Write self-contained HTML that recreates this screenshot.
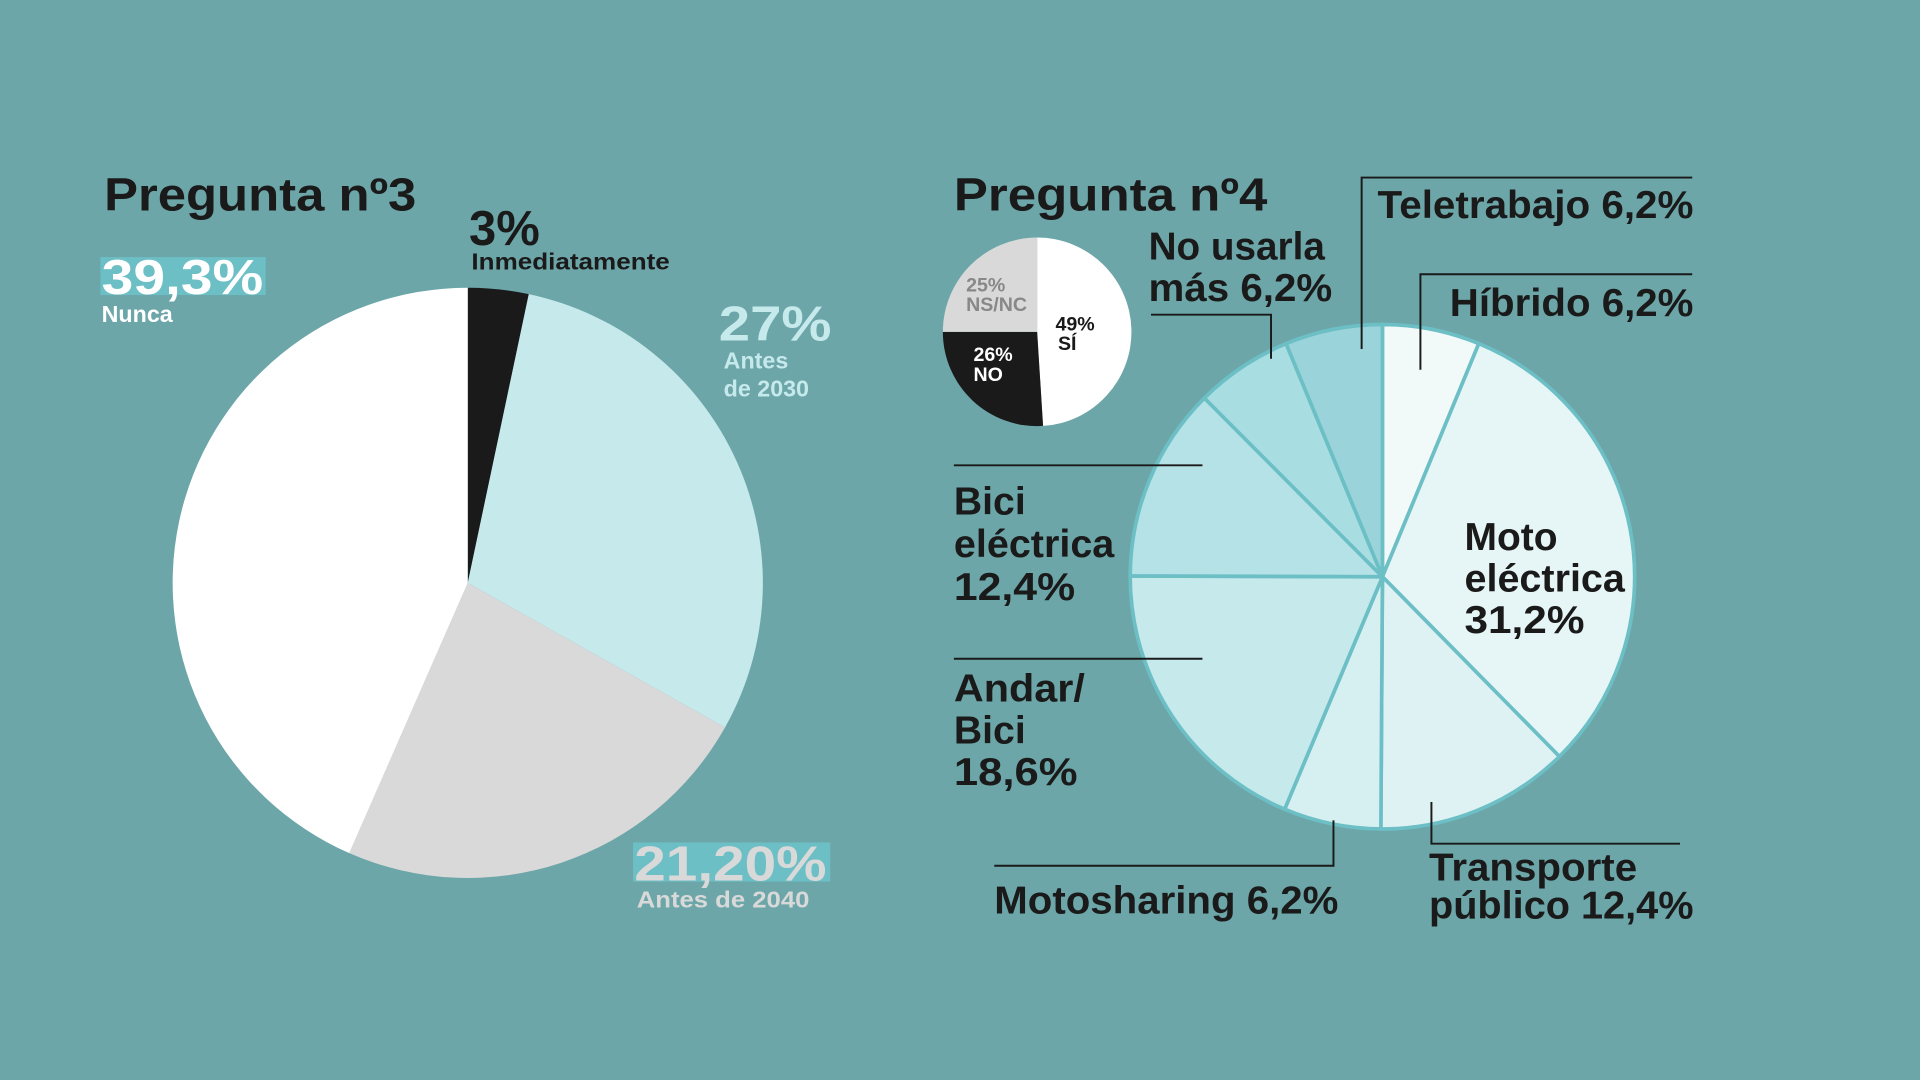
<!DOCTYPE html>
<html><head><meta charset="utf-8"><style>
html,body{margin:0;padding:0;background:#6ca6a8;}
svg{display:block;}
text{font-family:"Liberation Sans Narrow","Liberation Sans",sans-serif;font-weight:bold;}
</style></head><body>
<svg id="chart" width="1920" height="1080" viewBox="0 0 1568 882">
<rect x="0" y="0" width="1568" height="882" fill="#6ca6a8"/>
<g id="pie3"></g>
<g id="pie4"></g>
<g id="pieSmall"></g>

<text x="85" y="172" font-size="38" fill="#1a1a1a" textLength="255" lengthAdjust="spacingAndGlyphs">Pregunta nº3</text>
<text x="383" y="200" font-size="40" fill="#1a1a1a">3%</text>
<text x="385" y="220" font-size="19" fill="#1a1a1a" textLength="162" lengthAdjust="spacingAndGlyphs">Inmediatamente</text>
<rect x="82" y="210" width="135" height="31" fill="#6dbfc6"/>
<text x="83" y="240" font-size="40" fill="#ffffff" textLength="132" lengthAdjust="spacingAndGlyphs">39,3%</text>
<text x="83" y="263" font-size="19" fill="#ffffff">Nunca</text>
<text x="587" y="278" font-size="40" fill="#c6e9ec" textLength="92" lengthAdjust="spacingAndGlyphs">27%</text>
<text x="591" y="301" font-size="19" fill="#c6e9ec">Antes</text>
<text x="591" y="324" font-size="19" fill="#c6e9ec">de 2030</text>
<rect x="517" y="688" width="161" height="32" fill="#6dbfc6"/>
<text x="518" y="719" font-size="40" fill="#d9d9d9" textLength="157" lengthAdjust="spacingAndGlyphs">21,20%</text>
<text x="520" y="741" font-size="19" fill="#d9d9d9" textLength="141" lengthAdjust="spacingAndGlyphs">Antes de 2040</text>

<text x="779" y="172" font-size="38" fill="#1a1a1a" textLength="256" lengthAdjust="spacingAndGlyphs">Pregunta nº4</text>
<g font-size="16">
<text x="789" y="238" fill="#888888">25%</text>
<text x="789" y="254" fill="#888888">NS/NC</text>
<text x="795" y="295" fill="#ffffff">26%</text>
<text x="795" y="311" fill="#ffffff">NO</text>
<text x="862" y="270" fill="#1a1a1a">49%</text>
<text x="864" y="286" fill="#1a1a1a">SÍ</text>
</g>
<g font-size="32" fill="#1a1a1a">
<text x="938" y="212" textLength="144" lengthAdjust="spacingAndGlyphs">No usarla</text>
<text x="938" y="246" textLength="150" lengthAdjust="spacingAndGlyphs">más 6,2%</text>
<text x="1125" y="178" textLength="258" lengthAdjust="spacingAndGlyphs">Teletrabajo 6,2%</text>
<text x="1184" y="258" textLength="199" lengthAdjust="spacingAndGlyphs">Híbrido 6,2%</text>
<text x="779" y="420">Bici</text>
<text x="779" y="455" textLength="131" lengthAdjust="spacingAndGlyphs">eléctrica</text>
<text x="779" y="490" textLength="99" lengthAdjust="spacingAndGlyphs">12,4%</text>
<text x="779" y="573" textLength="107" lengthAdjust="spacingAndGlyphs">Andar/</text>
<text x="779" y="607">Bici</text>
<text x="779" y="641" textLength="101" lengthAdjust="spacingAndGlyphs">18,6%</text>
<text x="1196" y="449" textLength="76" lengthAdjust="spacingAndGlyphs">Moto</text>
<text x="1196" y="483" textLength="131" lengthAdjust="spacingAndGlyphs">eléctrica</text>
<text x="1196" y="517" textLength="98" lengthAdjust="spacingAndGlyphs">31,2%</text>
<text x="812" y="746" textLength="281" lengthAdjust="spacingAndGlyphs">Motosharing 6,2%</text>
<text x="1167" y="719" textLength="170" lengthAdjust="spacingAndGlyphs">Transporte</text>
<text x="1167" y="750" textLength="216" lengthAdjust="spacingAndGlyphs">público 12,4%</text>
</g>
<g stroke="#1a1a1a" stroke-width="1.6" fill="none">
<polyline points="940,257 1038,257 1038,293"/>
<polyline points="1382,145 1112,145 1112,285"/>
<polyline points="1382,224 1160,224 1160,302"/>
<line x1="779" y1="380" x2="982" y2="380"/>
<line x1="779" y1="538" x2="982" y2="538"/>
<polyline points="812,707 1089,707 1089,670"/>
<polyline points="1169,655 1169,689 1372,689"/>
</g>
</svg>
<script>
const q3Categories = ["Inmediatamente", "Antes de 2030", "Antes de 2040", "Nunca"];
const q3Values = [3, 27, 21.2, 39.3];
const q3Colors = ["#1a1a1a", "#c6e9ec", "#d9d9d9", "#ffffff"];
const q4Categories = ["Híbrido", "Moto eléctrica", "Transporte público", "Motosharing", "Andar/Bici", "Bici eléctrica", "No usarla más", "Teletrabajo"];
const q4Values = [6.2, 31.2, 12.4, 6.2, 18.6, 12.4, 6.2, 6.2];
const q4Colors = ["#f2f9f9", "#e6f5f5", "#dff2f3", "#d6eff1", "#c6e9ec", "#b5e2e6", "#a8dde1", "#9ad4da"];
const smallCategories = ["SÍ", "NO", "NS/NC"];
const smallValues = [49, 26, 25];
const smallColors = ["#ffffff", "#1a1a1a", "#d9d9d9"];

const NS = "http://www.w3.org/2000/svg";
function angleScale(values){
  const total = values.reduce((a,b)=>a+b,0);
  let cum = 0;
  return values.map(v=>{const a0=cum/total*2*Math.PI; cum+=v; return [a0, cum/total*2*Math.PI];});
}
function pt(cx,cy,r,a){return [cx+r*Math.sin(a), cy-r*Math.cos(a)];}
function drawPie(gid, cats, vals, cols, cx, cy, r, stroke, sw){
  const g=document.getElementById(gid);
  angleScale(vals).forEach((ang,i)=>{
    const p0=pt(cx,cy,r,ang[0]), p1=pt(cx,cy,r,ang[1]);
    const large=(ang[1]-ang[0])>Math.PI?1:0;
    const path=document.createElementNS(NS,"path");
    path.setAttribute("d",`M${cx},${cy} L${p0[0]},${p0[1]} A${r},${r} 0 ${large} 1 ${p1[0]},${p1[1]} Z`);
    path.setAttribute("fill",cols[i]);
    path.setAttribute("stroke",stroke);
    path.setAttribute("stroke-width",sw);
    path.setAttribute("stroke-linejoin","round");
    
    
    g.appendChild(path);
  });
}
drawPie("pie3", q3Categories, q3Values, q3Colors, 382, 476, 241, "none", 0);
drawPie("pie4", q4Categories, q4Values, q4Colors, 1129, 471, 206, "#6dbfc6", 3);
drawPie("pieSmall", smallCategories, smallValues, smallColors, 847, 271, 77, "none", 0);
</script>
</body></html>
